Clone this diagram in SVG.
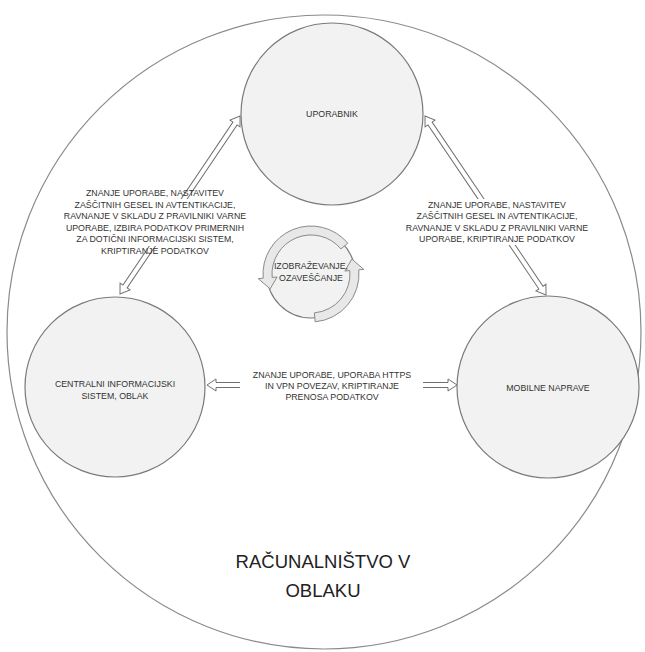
<svg xmlns="http://www.w3.org/2000/svg" width="645" height="652" viewBox="0 0 645 652">
<style>
.bg{fill:#ffffff;stroke:#8a8a8a;stroke-width:1.2}
.node{fill:#f2f2f2;stroke:#7a7a7a;stroke-width:1.2}
.t{font-family:"Liberation Sans",Arial,sans-serif;font-size:8.8px;fill:#333;text-anchor:middle}
.title{font-family:"Liberation Sans",Arial,sans-serif;font-size:18.5px;fill:#222;text-anchor:middle}
.arr{fill:#ffffff;stroke:#707070;stroke-width:1}
.band{fill:#e8e8e8;stroke:#8a8a8a;stroke-width:1}
.mask{fill:#ffffff}
</style>
<g id="outer">
<circle class="bg" cx="324" cy="332" r="317"/>
<text class="title" x="323" y="568">RAČUNALNIŠTVO V</text>
<text class="title" x="323" y="597">OBLAKU</text>
</g>
<g id="connectors">
<polygon class="arr" transform="translate(120,294) rotate(-56)" points="0,0 9,-6 9,-2.5 205.7,-2.5 205.7,-6 214.7,0 205.7,6 205.7,2.5 9,2.5 9,6"/>
<polygon class="arr" transform="translate(425,116) rotate(55.95)" points="0,0 9,-6 9,-2.5 207.1,-2.5 207.1,-6 216.1,0 207.1,6 207.1,2.5 9,2.5 9,6"/>
<polygon class="arr" transform="translate(207,385)" points="0,0 9,-6 9,-2.5 241,-2.5 241,-6 250,0 241,6 241,2.5 9,2.5 9,6"/>
<rect class="mask" x="50" y="199" width="210" height="47"/>
<text class="t" x="155" y="196">ZNANJE UPORABE, NASTAVITEV</text>
<text class="t" x="155" y="208">ZAŠČITNIH GESEL IN AVTENTIKACIJE,</text>
<text class="t" x="155" y="219">RAVNANJE V SKLADU Z PRAVILNIKI VARNE</text>
<text class="t" x="155" y="231">UPORABE, IZBIRA PODATKOV PRIMERNIH</text>
<text class="t" x="155" y="242">ZA DOTIČNI INFORMACIJSKI SISTEM,</text>
<text class="t" x="155" y="254">KRIPTIRANJE PODATKOV</text>
<rect class="mask" x="405" y="199" width="186" height="46"/>
<text class="t" x="497" y="208">ZNANJE UPORABE, NASTAVITEV</text>
<text class="t" x="497" y="219">ZAŠČITNIH GESEL IN AVTENTIKACIJE,</text>
<text class="t" x="497" y="231">RAVNANJE V SKLADU Z PRAVILNIKI VARNE</text>
<text class="t" x="497" y="242">UPORABE, KRIPTIRANJE PODATKOV</text>
<rect class="mask" x="240" y="369" width="183" height="34"/>
<text class="t" x="332" y="378">ZNANJE UPORABE, UPORABA HTTPS</text>
<text class="t" x="332" y="389">IN VPN POVEZAV, KRIPTIRANJE</text>
<text class="t" x="332" y="400">PRENOSA PODATKOV</text>
</g>
<g id="uporabnik">
<circle class="node" cx="332" cy="114" r="91"/>
<text class="t" x="332" y="117">UPORABNIK</text>
</g>
<g id="centralni">
<circle class="node" cx="115" cy="387" r="90"/>
<text class="t" x="115" y="387">CENTRALNI INFORMACIJSKI</text>
<text class="t" x="115" y="399">SISTEM, OBLAK</text>
</g>
<g id="mobilne">
<circle class="node" cx="548" cy="387" r="91"/>
<text class="t" x="548" y="391">MOBILNE NAPRAVE</text>
</g>
<g id="izobrazevanje">
<circle class="node" cx="311" cy="274" r="44"/>
<path class="band" d="M 347.77 243.15 A 48 48 0 0 0 263.18 278.18 L 258.2 278.62 L 270.12 288.88 L 277.13 276.96 L 272.15 277.4 A 39 39 0 0 1 340.88 248.93 Z"/>
<path class="band" d="M 315.18 321.82 A 48 48 0 0 0 358.82 269.82 L 363.8 269.38 L 351.88 259.12 L 344.87 271.04 L 349.85 270.6 A 39 39 0 0 1 314.4 312.85 Z"/>
<text class="t" x="311" y="269">IZOBRAŽEVANJE,</text>
<text class="t" x="311" y="281">OZAVEŠČANJE</text>
</g>
</svg>
